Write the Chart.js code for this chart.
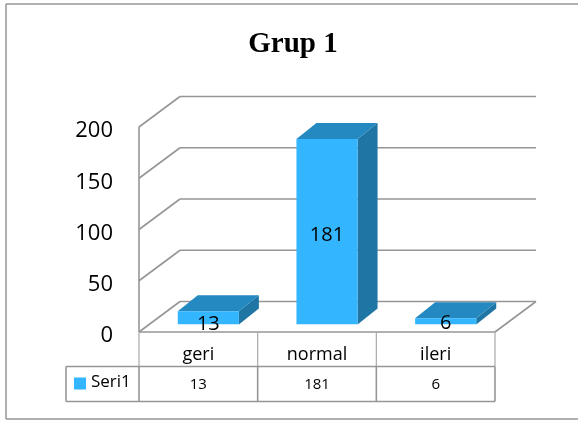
<!DOCTYPE html>
<html>
<head>
<meta charset="utf-8">
<style>
html,body{margin:0;padding:0;background:#fff;}
#wrap{position:absolute;left:0;top:0;width:578px;height:421px;}
</style>
<script src="https://cdn.jsdelivr.net/npm/chart.js@4"></script>
</head>
<body>
<div id="wrap"><canvas id="chart" width="578" height="421"></canvas></div>
<script>
const categories = ['geri', 'normal', 'ileri'];
const seriesName = 'Seri1';
const seriesValues = [13, 181, 6];
const yTicks = [0, 50, 100, 150, 200];
const chartTitle = 'Grup 1';

const FONT = '"Open Sans", sans-serif';
const GREY = '#969696';
const DEPTH_X = 41, DEPTH_Y = 30.5;   // floor depth
const BAR_DX = 20, BAR_DY = 16;       // bar depth
const OFF_X = 10, OFF_Y = 7.5;        // bars sit in the middle of the floor
const LABEL_NUDGE = [5, 3, 1];

function line(ctx, x1, y1, x2, y2) {
  ctx.beginPath();
  ctx.moveTo(x1, y1);
  ctx.lineTo(x2, y2);
  ctx.stroke();
}

function face(ctx, pts, color) {
  ctx.fillStyle = color;
  ctx.beginPath();
  pts.forEach((p, i) => i ? ctx.lineTo(p[0], p[1]) : ctx.moveTo(p[0], p[1]));
  ctx.closePath();
  ctx.fill();
}

// walls, floor, outer frame and data table
const backdrop = {
  id: 'backdrop',
  beforeDatasetsDraw(chart) {
    const { ctx, chartArea: a, scales: { x, y } } = chart;
    ctx.save();
    ctx.strokeStyle = GREY;
    ctx.lineWidth = 1.5;
    // frame runs off the right edge of the picture
    line(ctx, 6, 4, 578, 4);
    line(ctx, 6, 4, 6, 419);
    line(ctx, 6, 419, 578, 419);

    ctx.fillStyle = '#000';
    ctx.textAlign = 'center';
    ctx.textBaseline = 'middle';
    ctx.font = 'bold 29px "Liberation Serif", serif';
    ctx.fillText(chartTitle, 293, 45);

    ctx.lineWidth = 1.6;
    yTicks.forEach(v => {
      const py = y.getPixelForValue(v);
      line(ctx, a.left, py, a.left + DEPTH_X, py - DEPTH_Y);
      line(ctx, a.left + DEPTH_X, py - DEPTH_Y, a.right + DEPTH_X, py - DEPTH_Y);
    });
    line(ctx, a.left, a.top, a.left, a.bottom);
    line(ctx, a.left, a.bottom, a.right, a.bottom);
    line(ctx, a.right, a.bottom, a.right + DEPTH_X, a.bottom - DEPTH_Y);

    // table
    const rowMid = a.bottom + 34.5, rowBot = a.bottom + 69.5;
    const step = x.getPixelForValue(1) - x.getPixelForValue(0);
    const edges = categories.map((c, i) => x.getPixelForValue(i) - step / 2);
    edges.push(a.right);
    ctx.lineWidth = 1.2;
    ctx.strokeStyle = '#aaaaaa';
    edges.forEach(e => line(ctx, e, a.bottom, e, rowMid));
    ctx.lineWidth = 1.6;
    ctx.strokeStyle = GREY;
    line(ctx, 66, rowMid, a.right, rowMid);
    line(ctx, 66, rowBot, a.right, rowBot);
    line(ctx, 66, rowMid, 66, rowBot);
    edges.forEach(e => line(ctx, e, rowMid, e, rowBot));

    ctx.fillStyle = '#000';
    categories.forEach((c, i) => {
      const cx = x.getPixelForValue(i);
      ctx.font = '18px ' + FONT;
      ctx.fillText(c, cx, a.bottom + 23);
      ctx.font = '15px ' + FONT;
      ctx.fillText(String(seriesValues[i]), cx, rowMid + 18);
    });
    ctx.fillStyle = '#33B5FF';
    ctx.fillRect(74, rowMid + 11, 12, 12);
    ctx.fillStyle = '#000';
    ctx.textAlign = 'left';
    ctx.font = '17px ' + FONT;
    ctx.fillText(seriesName, 91, rowMid + 16);
    ctx.restore();

    // bar depth faces, shifted with the bars
    const meta = chart.getDatasetMeta(0);
    ctx.save();
    meta.data.forEach(b => {
      const l = b.x - b.width / 2 + OFF_X, r = b.x + b.width / 2 + OFF_X;
      const t = b.y - OFF_Y, bot = b.base - OFF_Y;
      face(ctx, [[r, t], [r + BAR_DX, t - BAR_DY], [r + BAR_DX, bot - BAR_DY], [r, bot]], '#1F75A3');
      face(ctx, [[l, t], [l + BAR_DX, t - BAR_DY], [r + BAR_DX, t - BAR_DY], [r, t]], '#2389C0');
    });
    ctx.restore();
    ctx.save();
    ctx.translate(OFF_X, -OFF_Y);
  },
  afterDatasetsDraw(chart) {
    chart.ctx.restore();
    const { ctx } = chart;
    const meta = chart.getDatasetMeta(0);
    ctx.save();
    ctx.fillStyle = '#000';
    ctx.font = '20px ' + FONT;
    ctx.textAlign = 'center';
    ctx.textBaseline = 'middle';
    meta.data.forEach((b, i) => {
      const midY = (b.y + b.base) / 2 - OFF_Y;
      ctx.fillText(String(seriesValues[i]), b.x + OFF_X, midY + LABEL_NUDGE[i] + 1);
    });
    ctx.restore();
  }
};

new Chart(document.getElementById('chart'), {
  type: 'bar',
  data: {
    labels: categories,
    datasets: [{
      label: seriesName,
      data: seriesValues,
      backgroundColor: '#33B5FF',
      barPercentage: 0.515,
      categoryPercentage: 1
    }]
  },
  options: {
    responsive: false,
    animation: false,
    layout: { padding: { left: 59, right: 83, top: 127, bottom: 81 } },
    plugins: {
      legend: { display: false },
      tooltip: { enabled: false }
    },
    scales: {
      x: {
        grid: { display: false },
        border: { display: false },
        ticks: { display: false }
      },
      y: {
        min: 0,
        max: 200,
        afterFit(s) { s.width = 80; },
        grid: { display: false, drawTicks: false },
        border: { display: false },
        ticks: {
          stepSize: 50,
          color: '#000',
          font: { family: FONT, size: 22 },
          padding: 26,
          labelOffset: 4
        }
      }
    }
  },
  plugins: [backdrop]
});
</script>
</body>
</html>
